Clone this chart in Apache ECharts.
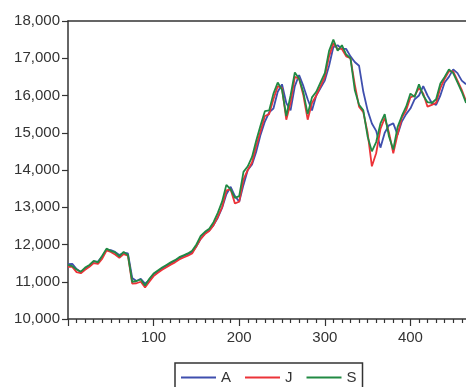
<!DOCTYPE html>
<html>
<head>
<meta charset="utf-8">
<script src="https://cdn.jsdelivr.net/npm/echarts@6/dist/echarts.min.js"></script>
<style>
  html, body { margin: 0; padding: 0; background: #fff; }
  #chart { width: 466px; height: 387px; }
</style>
</head>
<body>
<div id="chart"></div>
<script>
// x positions (trading day index), sampled every 5 days
const days = [
  0, 5, 10, 15, 20, 25, 30, 35, 40, 45,
  50, 55, 60, 65, 70, 75, 80, 85, 90, 95,
  100, 105, 110, 115, 120, 125, 130, 135, 140, 145,
  150, 155, 160, 165, 170, 175, 180, 185, 190, 195,
  200, 205, 210, 215, 220, 225, 230, 235, 240, 245,
  250, 255, 260, 265, 270, 275, 280, 285, 290, 295,
  300, 305, 310, 315, 320, 325, 330, 335, 340, 345,
  350, 355, 360, 365, 370, 375, 380, 385, 390, 395,
  400, 405, 410, 415, 420, 425, 430, 435, 440, 445,
  450, 455, 460, 465
];

const seriesA = [
  11470, 11480, 11340, 11260, 11350, 11430, 11540, 11540, 11680, 11860,
  11850, 11800, 11720, 11780, 11760, 11100, 11020, 11080, 10950, 11050,
  11200, 11280, 11360, 11430, 11500, 11560, 11640, 11690, 11740, 11790,
  11950, 12150, 12300, 12380, 12520, 12720, 12980, 13350, 13550, 13300,
  13150, 13600, 14000, 14150, 14500, 14950, 15300, 15550, 15650, 16100,
  16300, 15800, 15600, 16250, 16550, 16250, 15900, 15600, 16000, 16200,
  16400, 16800, 17300, 17350, 17250, 17250, 17050, 16900, 16800, 16100,
  15600, 15250, 15050, 14600, 15000, 15200, 15250, 14950, 15300, 15500,
  15650, 15900, 16000, 16250, 16000, 15800, 15750, 16000, 16350, 16500,
  16700, 16600, 16400, 16300
];

const seriesJ = [
  11400, 11400, 11260, 11230, 11320, 11400, 11500, 11480, 11620, 11840,
  11800, 11730, 11640, 11740, 11700, 10950, 10960, 11000, 10850, 11000,
  11150, 11240, 11320, 11390, 11460, 11520, 11600, 11650, 11700, 11760,
  11950, 12150, 12280, 12360, 12520, 12740, 13000, 13450, 13480, 13100,
  13150, 13750, 14000, 14200, 14650, 15050, 15450, 15500, 15900, 16250,
  16200, 15350, 15800, 16500, 16450, 16000, 15350, 15800, 16000, 16250,
  16500, 17050, 17400, 17250, 17250, 17050, 17000, 16300, 15700, 15550,
  15000, 14100, 14450, 15100, 15400, 15000, 14450, 14950, 15400, 15600,
  15950, 16000, 16200, 16050, 15700, 15750, 15800, 16200, 16450, 16650,
  16650, 16400, 16150, 15850
];

const seriesS = [
  11450, 11420, 11330, 11270, 11380, 11450, 11560, 11520, 11700, 11890,
  11830, 11790, 11680, 11800, 11720, 11000, 11020, 11060, 10900, 11080,
  11220, 11300, 11380, 11450, 11520, 11580, 11660, 11710, 11760, 11830,
  12000, 12230, 12340, 12420, 12600, 12850, 13150, 13600, 13480, 13250,
  13300, 13950, 14100, 14350, 14800, 15200, 15580, 15600, 16050, 16350,
  16150, 15450, 16000, 16620, 16450, 16080, 15500, 15950, 16100, 16350,
  16600, 17200, 17500, 17200, 17350, 17100, 17000, 16150, 15750, 15600,
  14900, 14500, 14750, 15250, 15500, 14900, 14550, 15150, 15450, 15700,
  16050, 15960, 16300, 16000, 15820, 15800, 15900, 16320, 16500, 16700,
  16600, 16350, 16100, 15800
];

const seriesNames = ['A', 'J', 'S'];
const seriesColors = ['#3f4fae', '#ec3338', '#218a43'];
const xTicks = [100, 200, 300, 400];

const font = '"Liberation Sans", Arial, sans-serif';
const ink = '#333';

const chart = echarts.init(document.getElementById('chart'));

const allValues = [seriesA, seriesJ, seriesS];

// plot area runs past the right edge of the page, as in the cropped original
chart.setOption({
  animation: false,
  backgroundColor: '#fff',
  grid: {
    left: 68,
    top: 21,
    width: 428,
    height: 298,
    outerBoundsMode: 'none',
  },
  legend: {
    left: 175,
    top: 363,
    padding: [7, 6, 9, 6],
    borderColor: ink,
    borderWidth: 1.5,
    icon: 'rect',
    itemWidth: 35,
    itemHeight: 2,
    itemGap: 14,
    textStyle: { fontSize: 15, color: ink, fontFamily: font },
    data: seriesNames,
  },
  xAxis: [{
    type: 'value',
    min: 0,
    max: 500,
    interval: 100,
    axisLine: { lineStyle: { color: ink, width: 1.5 } },
    axisTick: { length: 7, lineStyle: { color: ink, width: 1.2 } },
    minorTick: { show: true, splitNumber: 10, length: 4, lineStyle: { color: ink, width: 1.2 } },
    axisLabel: {
      margin: 11,
      fontSize: 15,
      color: ink,
      fontFamily: font,
      formatter: v => xTicks.includes(v) ? String(v) : '',
    },
    splitLine: { show: false },
  }, {
    type: 'value',
    position: 'top',
    min: 0,
    max: 500,
    axisLine: { show: true, lineStyle: { color: ink, width: 1.5 } },
    axisTick: { show: false },
    axisLabel: { show: false },
    splitLine: { show: false },
  }],
  yAxis: {
    type: 'value',
    min: 10000,
    max: 18000,
    interval: 1000,
    axisLine: { show: true, lineStyle: { color: ink, width: 1.5 } },
    axisTick: { show: true, length: 6, lineStyle: { color: ink, width: 1.2 } },
    axisLabel: {
      margin: 8,
      fontSize: 15,
      color: ink,
      fontFamily: font,
      formatter: v => v.toLocaleString('en-US'),
    },
    splitLine: { show: false },
  },
  series: seriesNames.map((name, k) => ({
    name,
    type: 'line',
    symbol: 'none',
    color: seriesColors[k],
    lineStyle: { width: 1.8, color: seriesColors[k] },
    data: days.map((d, j) => [d, allValues[k][j]]),
  })),
});
</script>
</body>
</html>
